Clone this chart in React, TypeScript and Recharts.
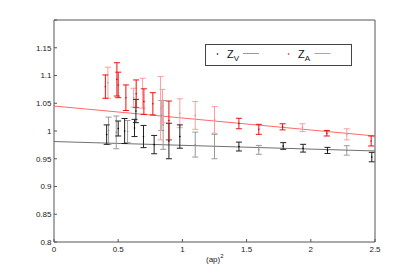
import {
  ComposedChart,
  Scatter,
  Line,
  ErrorBar,
  XAxis,
  YAxis,
} from 'recharts';

// Z_A (red) measurements
const xA = [0.40, 0.42, 0.49, 0.50, 0.56, 0.62, 0.64, 0.69, 0.70, 0.77, 0.83, 0.845, 0.895, 0.98, 1.10, 1.25, 1.44, 1.595, 1.78, 1.935, 2.125, 2.28, 2.47];
const yA = [1.080, 1.087, 1.093, 1.083, 1.060, 1.060, 1.067, 1.068, 1.053, 1.049, 1.041, 1.045, 1.019, 1.032, 1.028, 1.020, 1.0135, 1.003, 1.0075, 1.006, 0.996, 0.994, 0.982];
const eA = [0.021, 0.028, 0.030, 0.023, 0.023, 0.017, 0.025, 0.027, 0.023, 0.020, 0.057, 0.030, 0.035, 0.026, 0.025, 0.024, 0.0095, 0.009, 0.0055, 0.007, 0.005, 0.010, 0.009];
const strongA = [1, 0, 1, 1, 1, 0, 1, 0, 1, 1, 0, 0, 1, 0, 0, 0, 1, 1, 1, 0, 1, 0, 1];

// Z_V (black) measurements
const xV = [0.41, 0.425, 0.485, 0.50, 0.55, 0.573, 0.627, 0.638, 0.697, 0.78, 0.835, 0.85, 0.895, 0.98, 1.10, 1.25, 1.44, 1.595, 1.785, 1.94, 2.13, 2.28, 2.475];
const yV = [0.9935, 1.0005, 0.9975, 1.0045, 1.000, 0.999, 1.0055, 1.036, 0.990, 0.9755, 1.028, 1.011, 0.982, 0.990, 0.9755, 0.972, 0.972, 0.966, 0.973, 0.969, 0.965, 0.965, 0.953];
const eV = [0.0175, 0.0245, 0.0295, 0.0135, 0.0225, 0.020, 0.0155, 0.021, 0.020, 0.0165, 0.027, 0.044, 0.032, 0.021, 0.0225, 0.022, 0.008, 0.008, 0.006, 0.007, 0.0055, 0.0085, 0.0085];
const strongV = [1, 0, 0, 1, 1, 0, 1, 1, 1, 1, 0, 0, 1, 1, 0, 0, 1, 0, 1, 1, 1, 0, 1];

// linear fits
const fitXs = [0, 2.5];
const fitA = [1.045, 0.991];
const fitV = [0.981, 0.964];

const xTicks = [0, 0.5, 1, 1.5, 2, 2.5];
const yTicks = [0.8, 0.85, 0.9, 0.95, 1, 1.05, 1.1, 1.15, 1.2];

const pick = (xs: number[], ys: number[], es: number[], flags: number[], want: number) =>
  xs
    .map((x, i) => ({ x, y: ys[i], err: es[i], f: flags[i] }))
    .filter((d) => d.f === want);

const redStrong = pick(xA, yA, eA, strongA, 1);
const redLight = pick(xA, yA, eA, strongA, 0);
const blackStrong = pick(xV, yV, eV, strongV, 1);
const blackLight = pick(xV, yV, eV, strongV, 0);

const fitLineA = fitXs.map((x, i) => ({ x, y: fitA[i] }));
const fitLineV = fitXs.map((x, i) => ({ x, y: fitV[i] }));

const FONT = '"Liberation Sans", Arial, sans-serif';
const AXIS = '#555';

const dot = (color: string) => (p: any) => (
  <circle cx={p.cx} cy={p.cy} r={0.8} fill={color} />
);

const fmtY = (v: number) => (v === 1.2 ? '' : String(v));

const AxisTitle = () => (
  <text x={206} y={262} fontSize={8} fontFamily={FONT} fill="#222">
    (ap)
    <tspan dy={-4} fontSize={6}>2</tspan>
  </text>
);

const App = () => {
  return (
    <div style={{ position: 'absolute', left: 0, top: 0, width: 415, height: 273, background: '#fff' }}>
      <ComposedChart
        width={415}
        height={273}
        margin={{ top: 19, right: 39, bottom: 0, left: 0 }}
      >
        <XAxis
          xAxisId="bottom"
          dataKey="x"
          type="number"
          domain={[0, 2.5]}
          ticks={xTicks}
          height={31}
          stroke={AXIS}
          tickSize={-3}
          tickMargin={7}
          tick={{ fontSize: 8, fontFamily: FONT, fill: '#222' }}
          label={{ content: <AxisTitle /> }}
        />
        <XAxis
          xAxisId="top"
          orientation="top"
          dataKey="x"
          type="number"
          domain={[0, 2.5]}
          ticks={xTicks}
          height={1}
          stroke={AXIS}
          tickSize={-3}
          tickFormatter={() => ''}
        />
        <YAxis
          yAxisId="left"
          type="number"
          domain={[0.8, 1.2]}
          ticks={yTicks}
          width={54}
          stroke={AXIS}
          tickSize={-3}
          tickMargin={5.5}
          tickFormatter={fmtY}
          tick={{ fontSize: 8, fontFamily: FONT, fill: '#222' }}
        />
        <YAxis
          yAxisId="right"
          orientation="right"
          type="number"
          domain={[0.8, 1.2]}
          ticks={yTicks}
          width={1}
          stroke={AXIS}
          tickSize={-3}
          tickFormatter={() => ''}
        />

        <Line
          xAxisId="bottom"
          yAxisId="left"
          data={fitLineV}
          dataKey="y"
          stroke="#707070"
          strokeWidth={1}
          dot={false}
          isAnimationActive={false}
        />
        <Line
          xAxisId="bottom"
          yAxisId="left"
          data={fitLineA}
          dataKey="y"
          stroke="#ff6a6a"
          strokeWidth={1}
          dot={false}
          isAnimationActive={false}
        />

        <Scatter xAxisId="bottom" yAxisId="left" data={blackLight} dataKey="y" shape={dot('#888')} isAnimationActive={false}>
          <ErrorBar dataKey="err" direction="y" width={3} stroke="#9a9a9a" strokeWidth={1} />
        </Scatter>
        <Scatter xAxisId="bottom" yAxisId="left" data={redLight} dataKey="y" shape={dot('#ff8080')} isAnimationActive={false}>
          <ErrorBar dataKey="err" direction="y" width={3} stroke="#ff9c9c" strokeWidth={1} />
        </Scatter>
        <Scatter xAxisId="bottom" yAxisId="left" data={blackStrong} dataKey="y" shape={dot('#000')} isAnimationActive={false}>
          <ErrorBar dataKey="err" direction="y" width={3} stroke="#222" strokeWidth={1} />
        </Scatter>
        <Scatter xAxisId="bottom" yAxisId="left" data={redStrong} dataKey="y" shape={dot('#e00000')} isAnimationActive={false}>
          <ErrorBar dataKey="err" direction="y" width={3} stroke="#ee1010" strokeWidth={1} />
        </Scatter>
      </ComposedChart>

      {/* legend box */}
      <svg
        width={148}
        height={23}
        style={{ position: 'absolute', left: 204.5, top: 43.5 }}
      >
        <rect x={0.5} y={0.5} width={146} height={21} fill="#fff" stroke="#444" strokeWidth={1} />
        <circle cx={12.5} cy={10} r={0.8} fill="#000" />
        <text x={22} y={14} fontSize={11} fontFamily={FONT} fill="#111">
          Z<tspan fontSize={8} dy={3}>V</tspan>
        </text>
        <line x1={38} y1={9.5} x2={54} y2={9.5} stroke="#999" strokeWidth={1} />
        <circle cx={83.5} cy={10} r={0.8} fill="#f00" />
        <text x={93} y={14} fontSize={11} fontFamily={FONT} fill="#111">
          Z<tspan fontSize={8} dy={3}>A</tspan>
        </text>
        <line x1={109.5} y1={9.5} x2={125.5} y2={9.5} stroke="#ff8080" strokeWidth={1} />
      </svg>
    </div>
  );
};

export default App;
